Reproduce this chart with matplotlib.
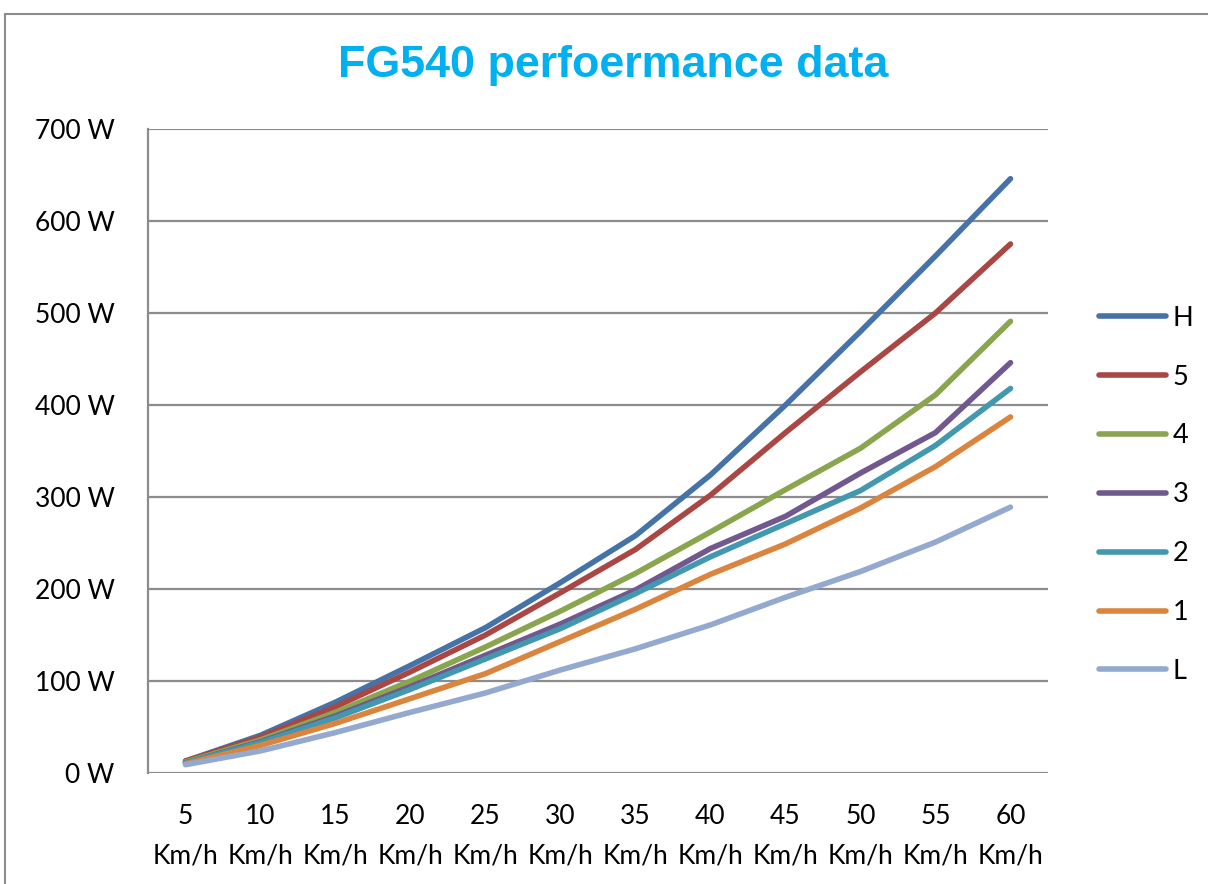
import matplotlib
matplotlib.use("Agg")
import matplotlib.pyplot as plt
import numpy as np

# speeds (km/h) and power in W for each setting
speeds = [5, 10, 15, 20, 25, 30, 35, 40, 45, 50, 55, 60]
H = [13, 41, 77, 117, 158, 207, 258, 324, 400, 480, 562, 646]
s5 = [13, 39, 72, 110, 150, 196, 243, 302, 370, 436, 500, 575]
s4 = [12, 36, 66, 100, 137, 176, 217, 262, 308, 353, 411, 491]
s3 = [11, 34, 62, 94, 128, 162, 199, 244, 279, 326, 370, 446]
s2 = [11, 33, 60, 91, 124, 157, 195, 235, 271, 307, 356, 418]
s1 = [10, 30, 54, 81, 108, 143, 178, 216, 249, 288, 333, 387]
L = [9, 24, 44, 66, 87, 112, 135, 161, 191, 219, 251, 289]

series = [("H", H, "#4572A7"), ("5", s5, "#AA4643"), ("4", s4, "#89A54E"),
          ("3", s3, "#71588F"), ("2", s2, "#4198AF"), ("1", s1, "#DB843D"),
          ("L", L, "#93A9CF")]

plt.rcParams['font.family'] = ['Lato', 'DejaVu Sans']

fig = plt.figure(figsize=(12.08, 8.84), dpi=100)
ax = fig.add_axes([148/1208, 1-773/884, 900/1208, 644/884])

x = np.arange(len(speeds))
for name, vals, col in series:
    ax.plot(x, vals, color=col, lw=4.0, label=name, solid_capstyle='round',
            solid_joinstyle='round')

ax.set_xlim(-0.5, len(speeds) - 0.5)
ax.set_ylim(0, 700)
ax.set_yticks(range(0, 701, 100))
ax.set_yticklabels([f"{v} W" for v in range(0, 701, 100)], fontsize=19)
ax.set_xticks(x)
ax.set_xticklabels([f"{s}\nKm/h" for s in speeds], fontsize=19, linespacing=1.75)
ax.tick_params(axis="x", length=0, pad=22)
ax.tick_params(axis="y", length=0, pad=24)
ax.yaxis.grid(True, color="#8c8c8c", lw=1.6)
ax.set_axisbelow(True)
for sp in ["top", "right", "bottom"]:
    ax.spines[sp].set_visible(False)
ax.spines["left"].set_color("#8c8c8c")
ax.spines["left"].set_linewidth(1.6)

fig.text(0.508, 1-66/884, "FG540 perfoermance data", ha="center", va="center",
         fontsize=32.3, fontweight="bold", color="#00B0F0", family="Liberation Sans")

ax.legend(loc="center left", bbox_to_anchor=(1.03, 0.432), frameon=False,
          fontsize=19.5, handlelength=2.45, handletextpad=0.25, labelspacing=1.25)

# outer chart frame
fig.patches.append(plt.Rectangle((5/1208, -0.02), 1.05, 1.02 - 14/884,
                                 transform=fig.transFigure, fill=False,
                                 edgecolor="#8c8c8c", lw=1.5))

fig.savefig("out.png", dpi=100)
